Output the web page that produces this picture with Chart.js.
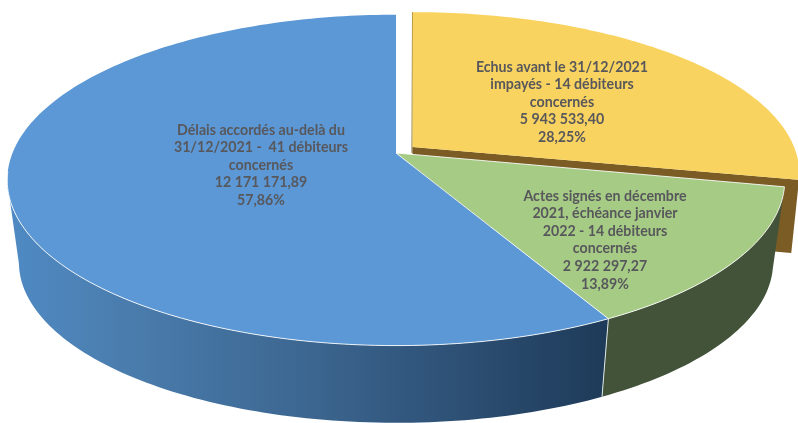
<!DOCTYPE html>
<html><head><meta charset="utf-8">
<style>html,body{margin:0;padding:0;background:#fff}canvas{display:block}</style>
<script src="https://cdn.jsdelivr.net/npm/chart.js@4"></script>
</head><body><canvas id="c" width="798" height="423"></canvas>
<script>
const categories = ["Echus avant le 31/12/2021 impayés - 14 débiteurs concernés","Actes signés en décembre 2021, échéance janvier 2022 - 14 débiteurs concernés","Délais accordés au-delà du 31/12/2021 -  41 débiteurs concernés"];
const values = [5943533.40, 2922297.27, 12171171.89];
const topColors = ["#F9D35F","#A5CB85","#5B98D5"];
const labelLines = [
  ["Echus avant le 31/12/2021","impayés - 14 débiteurs","concernés","5 943 533,40","28,25%"],
  ["Actes signés en décembre","2021, échéance janvier","2022 - 14 débiteurs","concernés","2 922 297,27","13,89%"],
  ["Délais accordés au-delà du","31/12/2021 -  41 débiteurs","concernés","12 171 171,89","57,86%"]
];
const labelPos = [[562,67,17.6],[605,196,17.6],[261,130,17.5]];
// projection of the pie disc: a circle seen in perspective
const P = {a:383.5, b:161, p:0.164};
const faces = [
  {x:412.5,y:147,sx:.995,sy:.975},
  {x:396,y:153,sx:1,sy:1},
  {x:396,y:153,sx:1,sy:1}
];
const base = [
  {x:412.5,y:220,sx:.975,sy:.975},
  {x:396,y:236,sx:.97,sy:.97},
  {x:396,y:236,sx:.97,sy:.97}
];
function pt(f,th){
  const u=Math.sin(th), v=-Math.cos(th), d=1-P.p*v;
  return [f.x+f.sx*P.a*u/d, f.y+f.sy*P.b*v/d];
}
function arcPts(f,t0,t1){
  const n=Math.max(2,Math.ceil(Math.abs(t1-t0)/0.02)), r=[];
  for(let i=0;i<=n;i++) r.push(pt(f,t0+(t1-t0)*i/n));
  return r;
}
function poly(ctx,pts){ctx.beginPath();pts.forEach((q,i)=>i?ctx.lineTo(q[0],q[1]):ctx.moveTo(q[0],q[1]));ctx.closePath();}
const pie3d = {
  id:'pie3d',
  beforeDatasetDraw(){return false;},
  afterDatasetsDraw(chart){
    const ctx=chart.ctx, arcs=chart.getDatasetMeta(0).data;
    const T=arcs.map(a=>[a.startAngle+Math.PI/2,a.endAngle+Math.PI/2]);
    ctx.save();
    // yellow radial wall
    const yEnd=T[0][1];
    poly(ctx,[[faces[0].x,faces[0].y],pt(faces[0],yEnd),pt(base[0],yEnd),[base[0].x,base[0].y]]);
    ctx.fillStyle='#7A5C24';ctx.fill();
    ctx.strokeStyle='#7A6A30';ctx.lineWidth=1;
    ctx.beginPath();ctx.moveTo(faces[0].x-.5,faces[0].y+6);ctx.lineTo(...pt(faces[0],0));ctx.stroke();
    poly(ctx,[[faces[0].x,faces[0].y],...arcPts(faces[0],T[0][0],T[0][1])]);
    ctx.fillStyle=arcs[0].options.backgroundColor;ctx.fill();
    // green outer wall
    const gT=T[1];
    poly(ctx,[...arcPts(faces[1],gT[0],gT[1]),...arcPts(base[1],gT[1],gT[0])]);
    ctx.fillStyle='#435339';ctx.fill();
    // blue outer wall
    const bEnd=Math.min(T[2][1],4.54);
    poly(ctx,[...arcPts(faces[2],T[2][0],bEnd),...arcPts(base[2],bEnd,T[2][0])]);
    const g=ctx.createLinearGradient(8,0,610,0);
    g.addColorStop(0,'#4F8AC4');g.addColorStop(.15,'#4C80B2');g.addColorStop(.5,'#3C6690');g.addColorStop(.7,'#30547A');g.addColorStop(1,'#1E3A58');
    ctx.fillStyle=g;ctx.fill();
    // wall separation
    ctx.strokeStyle='#DCE6E4';ctx.lineWidth=1;
    ctx.beginPath();ctx.moveTo(...pt(faces[1],gT[1]));ctx.lineTo(...pt(base[1],gT[1]));ctx.stroke();
    // top faces
    [1,2].forEach(i=>{
      poly(ctx,[[faces[i].x,faces[i].y],...arcPts(faces[i],T[i][0],T[i][1])]);
      ctx.fillStyle=arcs[i].options.backgroundColor;ctx.fill();
    });
    ctx.strokeStyle='rgba(255,255,255,.85)';ctx.lineWidth=1;
    [1,2].forEach(i=>{
      const a=arcPts(faces[i],T[i][0],i===2?Math.min(T[i][1],4.6):T[i][1]);
      ctx.beginPath();
      if(i===1){ctx.moveTo(faces[i].x,faces[i].y);a.forEach(q=>ctx.lineTo(q[0],q[1]));ctx.closePath();}
      else{a.forEach((q,k)=>k?ctx.lineTo(q[0],q[1]):ctx.moveTo(q[0],q[1]));}
      ctx.stroke();
    });
    // labels
    ctx.font='700 14.2px Lato';ctx.textAlign='center';ctx.textBaseline='middle';
    ctx.fillStyle='#58585C';
    labelLines.forEach((ls,i)=>ls.forEach((s,j)=>ctx.fillText(s,labelPos[i][0],labelPos[i][1]+j*labelPos[i][2])));
    ctx.restore();
  }
};
new Chart(document.getElementById('c'),{
  type:'pie',
  data:{labels:categories,datasets:[{data:values,backgroundColor:topColors,borderWidth:0}]},
  options:{responsive:false,animation:false,events:[],
    plugins:{legend:{display:false},tooltip:{enabled:false}}},
  plugins:[pie3d]
});
</script></body></html>
